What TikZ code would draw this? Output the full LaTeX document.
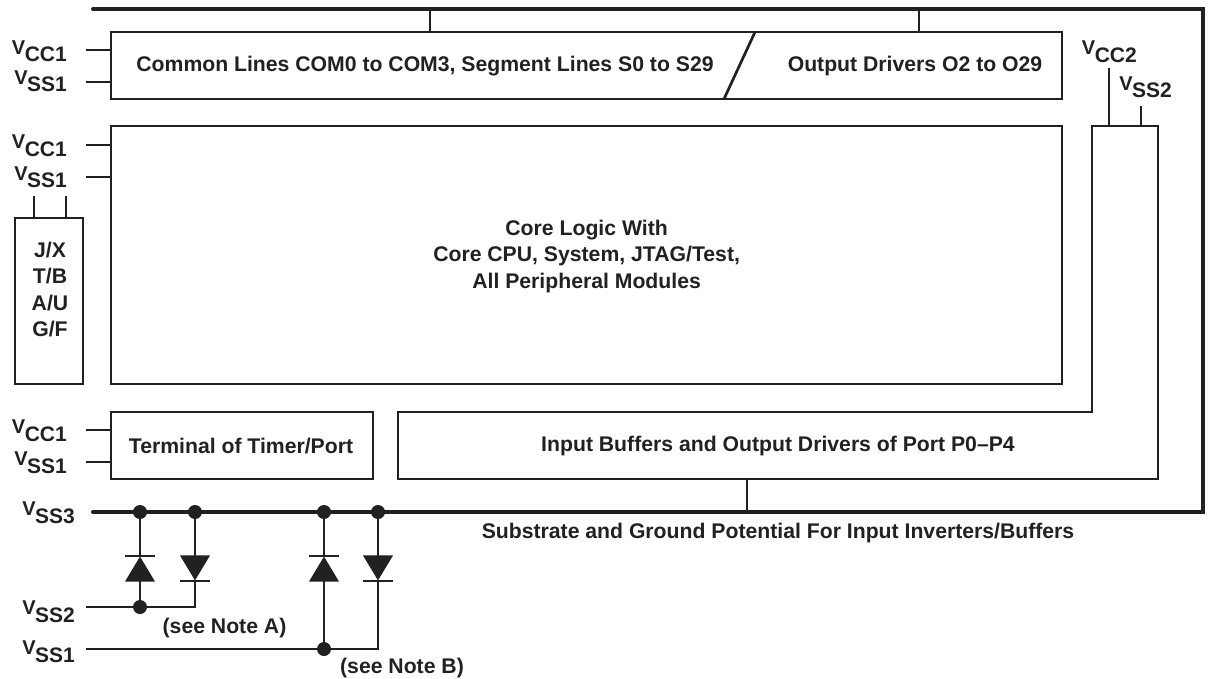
\documentclass[tikz,border=0pt]{standalone}
\usepackage{fontspec}
\setmainfont{Liberation Sans}
\usetikzlibrary{shapes.geometric}
\definecolor{ink}{gray}{0.13}
\newcommand{\supply}[1]{\raisebox{7.5pt}{\fontsize{20}{20}\selectfont V}\kern-0.5pt #1}
\begin{document}
\begin{tikzpicture}[x=1pt, y=-1pt, ink,
	main/.style = {draw, line width=2.7pt, inner sep=0pt, font=\fontsize{21.2}{26.5}\bfseries\selectfont, align=center},
	lab/.style = {inner sep=0pt, font=\fontsize{21.2}{26.5}\bfseries\selectfont, align=center},
	pin/.style = {inner sep=0pt, anchor=base east, font=\fontsize{21}{22}\bfseries\selectfont},
	stub/.style = {line width=1.1pt},
	bus/.style = {line width=4pt, line cap=round, line join=miter},
	dot/.style = {circle, fill, inner sep=0pt, minimum size=14pt},
	diode/.style = {isosceles triangle, isosceles triangle stretches, fill, draw=none, inner sep=0pt, anchor=apex, minimum width=30pt, minimum height=25pt}]

	\useasboundingbox (0,0) rectangle (1209,679);

	% blocks
	\node[main, minimum width=951pt, minimum height=67pt] (common) at (586.5,65.5) {};
	\node[main, minimum width=951pt, minimum height=258pt] (core) at (586.5,255) {};
	\node[main, minimum width=262pt, minimum height=67pt] (timer) at (242,445.5) {};
	\node[main, minimum width=68pt, minimum height=166pt] (pkg) at (49,301) {};

	\node[lab] (commontext) at (425,66.5) {Common Lines COM0 to COM3, Segment Lines S0 to S29};
	\node[lab] (drivertext) at (915,66.5) {Output Drivers O2 to O29};
	\node[lab] (coretext) at (586.6,256.5) {Core Logic With\\Core CPU, System, JTAG/Test,\\All Peripheral Modules};
	\node[lab] (timertext) at (241,446) {Terminal of Timer/Port};
	\node[lab] (porttext) at (778,446.5) {Input Buffers and Output Drivers of Port P0--P4};
	\node[lab] (subtext) at (778,533.5) {Substrate and Ground Potential For Input Inverters/Buffers};
	\node[lab] (notea) at (224.5,628) {(see Note A)};
	\node[lab] (noteb) at (402,668) {(see Note B)};
	\node[lab] (pkgtext) at (50,289.5) {J/X\\T/B\\A/U\\G/F};

	% slash in the top block
	\coordinate (slasha) at (755,32);
	\coordinate (slashb) at (724,99);
	\draw[line width=2.7pt] (slasha) -- (slashb);

	% port block
	\coordinate (porta) at (1092,126);
	\coordinate (portb) at (1158,126);
	\coordinate (portc) at (1158,479);
	\coordinate (portd) at (398,479);
	\coordinate (porte) at (398,412);
	\coordinate (portf) at (1092,412);
	\draw[line width=2.7pt] (porta) -- (portb) -- (portc) -- (portd) -- (porte) -- (portf) -- cycle;

	% outer bus
	\coordinate (busa) at (93,9);
	\coordinate (busb) at (1203,9);
	\coordinate (busc) at (1203,512);
	\coordinate (busd) at (93,512);
	\draw[bus] (busa) -- (busb) -- (busc) -- (busd);

	\draw[stub] (430,9) -- (430,9 |- common.north);
	\draw[stub] (919,9) -- (919,9 |- common.north);
	\draw[stub] (747,512) -- (747,512 |- portc);

	% supply pins
	\node[pin] (vcca) at (67,62) {\supply{CC1}};
	\node[pin] (vssa) at (67,92) {\supply{SS1}};
	\node[pin] (vccb) at (67,156.5) {\supply{CC1}};
	\node[pin] (vssb) at (67,188) {\supply{SS1}};
	\node[pin] (vccc) at (67,441) {\supply{CC1}};
	\node[pin] (vssc) at (67,473) {\supply{SS1}};
	\node[pin] (vccd) at (1137,62.5) {\supply{CC2}};
	\node[pin] (vssd) at (1172,98) {\supply{SS2}};
	\node[pin] (vsse) at (75,523) {\supply{SS3}};
	\node[pin] (vssf) at (75,622) {\supply{SS2}};
	\node[pin] (vssg) at (75,662) {\supply{SS1}};

	\foreach \ypos/\blockname in {50/common, 82/common, 145/core, 177/core, 430/timer, 462/timer}
		\draw[stub] (86,\ypos) -- (\blockname.west |- 86,\ypos);
	\draw[stub] (34,196) -- (34,196 |- pkg.north);
	\draw[stub] (66,196) -- (66,196 |- pkg.north);
	\draw[stub] (1109,68) -- (1109,68 |- porta);
	\draw[stub] (1141,106) -- (1141,106 |- porta);

	% diodes
	\node[dot] (dota) at (140,512) {};
	\node[dot] (dotb) at (195,512) {};
	\node[dot] (dotc) at (324,512) {};
	\node[dot] (dotd) at (378,512) {};
	\node[dot] (dote) at (140,607) {};
	\node[dot] (dotf) at (324,649) {};

	\node[diode, shape border rotate=90] (diodea) at (140,556) {};
	\node[diode, shape border rotate=-90] (diodeb) at (195,581) {};
	\node[diode, shape border rotate=90] (diodec) at (324,556) {};
	\node[diode, shape border rotate=-90] (dioded) at (378,581) {};

	\foreach \dotname/\xpos in {dota/140, dotb/195, dotc/324, dotd/378}
		\draw[stub] (\dotname) -- (\xpos,556);
	\foreach \xpos in {140, 324} \draw[stub] (\xpos-15,556) -- (\xpos+15,556);
	\foreach \xpos in {195, 378} \draw[stub] (\xpos-15,581) -- (\xpos+15,581);

	\draw[line width=2pt] (dote) -- (140,581);
	\draw[line width=2pt] (dotf) -- (324,581);

	\coordinate (linea) at (86,607);
	\coordinate (lineb) at (86,649);
	\draw[stub] (linea) -- (dote) -- (195,607) -- (195,581);
	\draw[stub] (lineb) -- (dotf) -- (378,649) -- (378,581);
\end{tikzpicture}
\end{document}
